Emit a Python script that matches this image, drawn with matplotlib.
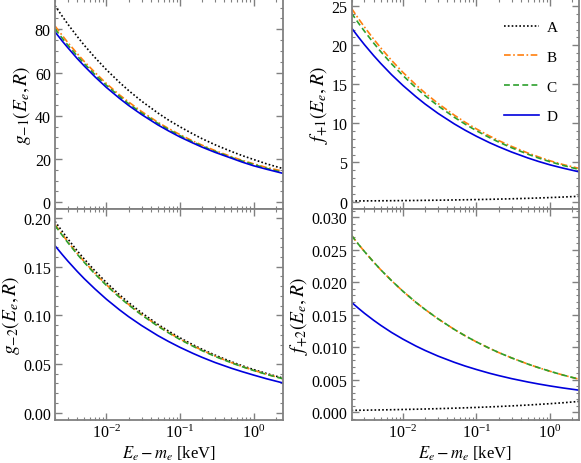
import matplotlib
matplotlib.use("Agg")
import matplotlib.pyplot as plt
from matplotlib.ticker import MultipleLocator, LogLocator, NullFormatter, FormatStrFormatter

plt.rcParams['font.family'] = ['Liberation Serif', 'DejaVu Serif']
plt.rcParams['mathtext.fontset'] = 'stix'

energy = [0.002, 0.0025, 0.003, 0.004, 0.005, 0.007, 0.01, 0.015, 0.02, 0.03, 0.05,
          0.07, 0.1, 0.15, 0.2, 0.3, 0.5, 0.7, 1.0, 1.5, 2.5]
labels = ["A", "B", "C", "D"]

g_m1 = {
    "A": [90.9, 86.1, 82.3, 76.7, 72.6, 66.9, 61.3, 55.5, 51.7, 46.8, 41.3,
          38.0, 34.9, 31.6, 29.4, 26.6, 23.5, 21.6, 19.8, 17.8, 15.6],
    "B": [81.5, 77.2, 73.8, 68.8, 65.1, 60.0, 54.9, 49.7, 46.4, 42.0, 37.0,
          34.1, 31.3, 28.3, 26.4, 23.9, 21.1, 19.4, 17.8, 16.1, 14.4],
    "C": [80.2, 75.9, 72.6, 67.7, 64.1, 59.0, 54.1, 49.0, 45.6, 41.3, 36.5,
          33.6, 30.8, 27.9, 26.0, 23.5, 20.7, 19.1, 17.5, 15.7, 13.8],
    "D": [78.8, 74.6, 71.4, 66.5, 63.0, 58.0, 53.1, 48.1, 44.8, 40.6, 35.8,
          33.0, 30.2, 27.4, 25.5, 23.1, 20.4, 18.6, 16.9, 15.3, 13.4],
}
f_p1 = {
    "A": [0.080, 0.0855, 0.0903, 0.0985, 0.1054, 0.1165, 0.1297, 0.1464, 0.1596, 0.180, 0.210,
          0.2325, 0.259, 0.292, 0.318, 0.360, 0.419, 0.464, 0.516, 0.583, 0.681],
    "B": [24.7, 23.36, 22.32, 20.77, 19.65, 18.06, 16.52, 14.93, 13.89, 12.55, 11.05,
          10.15, 9.29, 8.39, 7.81, 7.06, 6.21, 5.71, 5.22, 4.74, 4.24],
    "C": [24.1, 22.79, 21.78, 20.27, 19.17, 17.62, 16.12, 14.56, 13.55, 12.25, 10.78,
          9.91, 9.06, 8.19, 7.62, 6.89, 6.06, 5.57, 5.10, 4.63, 4.10],
    "D": [22.2, 21.0, 20.06, 18.67, 17.66, 16.23, 14.85, 13.42, 12.48, 11.28, 9.93,
          9.13, 8.35, 7.54, 7.02, 6.34, 5.58, 5.13, 4.70, 4.28, 3.80],
}
g_m2 = {
    "A": [0.1967, 0.1865, 0.1785, 0.1665, 0.1579, 0.1457, 0.1337, 0.1213, 0.1132, 0.1027, 0.0908,
          0.0838, 0.0769, 0.0698, 0.0651, 0.0591, 0.0523, 0.0482, 0.0443, 0.0402, 0.0355],
    "B": [0.1935, 0.1834, 0.1756, 0.1638, 0.1553, 0.1433, 0.1315, 0.1193, 0.1113, 0.1010, 0.0894,
          0.0824, 0.0756, 0.0687, 0.0641, 0.0581, 0.0514, 0.0474, 0.0435, 0.0395, 0.0349],
    "C": [0.1925, 0.1825, 0.1747, 0.1630, 0.1545, 0.1425, 0.1308, 0.1187, 0.1108, 0.1005, 0.0889,
          0.0820, 0.0752, 0.0683, 0.0637, 0.0578, 0.0512, 0.0472, 0.0433, 0.0393, 0.0348],
    "D": [0.1716, 0.1627, 0.1557, 0.1453, 0.1377, 0.1271, 0.1166, 0.1058, 0.0987, 0.0896, 0.0792,
          0.0731, 0.0671, 0.0609, 0.0568, 0.0515, 0.0456, 0.0421, 0.0386, 0.0348, 0.0305],
}
f_p2 = {
    "A": [0.00026, 0.000275, 0.000289, 0.000311, 0.000329, 0.000359, 0.000394, 0.000437, 0.000471,
          0.000523, 0.000597, 0.000651, 0.000713, 0.000792, 0.000853, 0.000947, 0.00108, 0.00118,
          0.00129, 0.00143, 0.00164],
    "B": [0.0272, 0.0258, 0.02472, 0.0231, 0.0219, 0.02024, 0.0186, 0.0169, 0.0158, 0.01436, 0.01272,
          0.01175, 0.0108, 0.00982, 0.00917, 0.00834, 0.00739, 0.00683, 0.00628, 0.0057, 0.00505],
    "C": [0.0272, 0.0258, 0.02472, 0.0231, 0.0219, 0.02024, 0.0186, 0.0169, 0.0158, 0.01436, 0.01272,
          0.01175, 0.0108, 0.00982, 0.00917, 0.00834, 0.00739, 0.00683, 0.00628, 0.0057, 0.00505],
    "D": [0.0169, 0.01595, 0.01521, 0.01413, 0.01335, 0.01226, 0.01123, 0.01017, 0.00949, 0.00862,
          0.00766, 0.00709, 0.00655, 0.00598, 0.00562, 0.00515, 0.00463, 0.00432, 0.00402, 0.00371,
          0.00336],
}

styles = {
    "A": dict(color="black", ls=(0, (1, 1.3))),
    "B": dict(color="#ff7f0e", ls=(0, (4, 1.5, 1, 1.5))),
    "C": dict(color="#2ca02c", ls=(0, (3.5, 2))),
    "D": dict(color="#0000dd", ls="-"),
}

fig = plt.figure(figsize=(5.81, 4.64), dpi=100)
W = 0.392
H = 0.4535
axes = {
    "tl": fig.add_axes([0.0947, 1 - H, W, H]),
    "tr": fig.add_axes([0.605, 1 - H, W, H]),
    "bl": fig.add_axes([0.0947, 1 - 2 * H, W, H]),
    "br": fig.add_axes([0.605, 1 - 2 * H, W, H]),
}

panels = [
    ("tl", g_m1, r"$g_{-1}(E_e, R)$", (-3.3, 94), 20, 5, "%g"),
    ("tr", f_p1, r"$f_{+1}(E_e, R)$", (-1.0, 25.9), 5, 1, "%g"),
    ("bl", g_m2, r"$g_{-2}(E_e, R)$", (-0.0075, 0.209), 0.05, 0.01, "%.2f"),
    ("br", f_p2, r"$f_{+2}(E_e, R)$", (-0.0012, 0.0312), 0.005, 0.001, "%.3f"),
]

for key, data, ylab, ylim, maj, mnr, fmt in panels:
    ax = axes[key]
    for lab in labels:
        ax.plot(energy, data[lab], lw=1.2, label=lab, **styles[lab])
    ax.set_xscale("log")
    ax.set_xlim(0.002, 2.5)
    ax.set_ylim(*ylim)
    ax.yaxis.set_major_locator(MultipleLocator(maj))
    ax.yaxis.set_minor_locator(MultipleLocator(mnr))
    ax.yaxis.set_major_formatter(FormatStrFormatter(fmt))
    ax.xaxis.set_major_locator(LogLocator(base=10, numticks=10))
    ax.xaxis.set_minor_locator(LogLocator(base=10, subs=range(2, 10), numticks=100))
    ax.set_ylabel(ylab, fontsize=14, labelpad=1)
    ax.tick_params(which="both", direction="in", top=True, right=True,
                   color="#808080", labelsize=11.5, pad=3)
    ax.tick_params(which="major", length=5, width=1.0)
    ax.tick_params(which="minor", length=2.5, width=0.8)
    for sp in ax.spines.values():
        sp.set_color("#808080")
        sp.set_linewidth(1.3)
    if key in ("tl", "tr"):
        ax.xaxis.set_major_formatter(NullFormatter())
        ax.xaxis.set_minor_formatter(NullFormatter())
    else:
        ax.set_xlabel(r"$E_e - m_e$ [keV]", fontsize=12, labelpad=2)

axes["tr"].legend(loc="upper right", frameon=False, fontsize=11,
                  handlelength=2.3, labelspacing=1.05, handletextpad=0.5,
                  borderaxespad=1.0)

fig.savefig("out.png", dpi=100)
